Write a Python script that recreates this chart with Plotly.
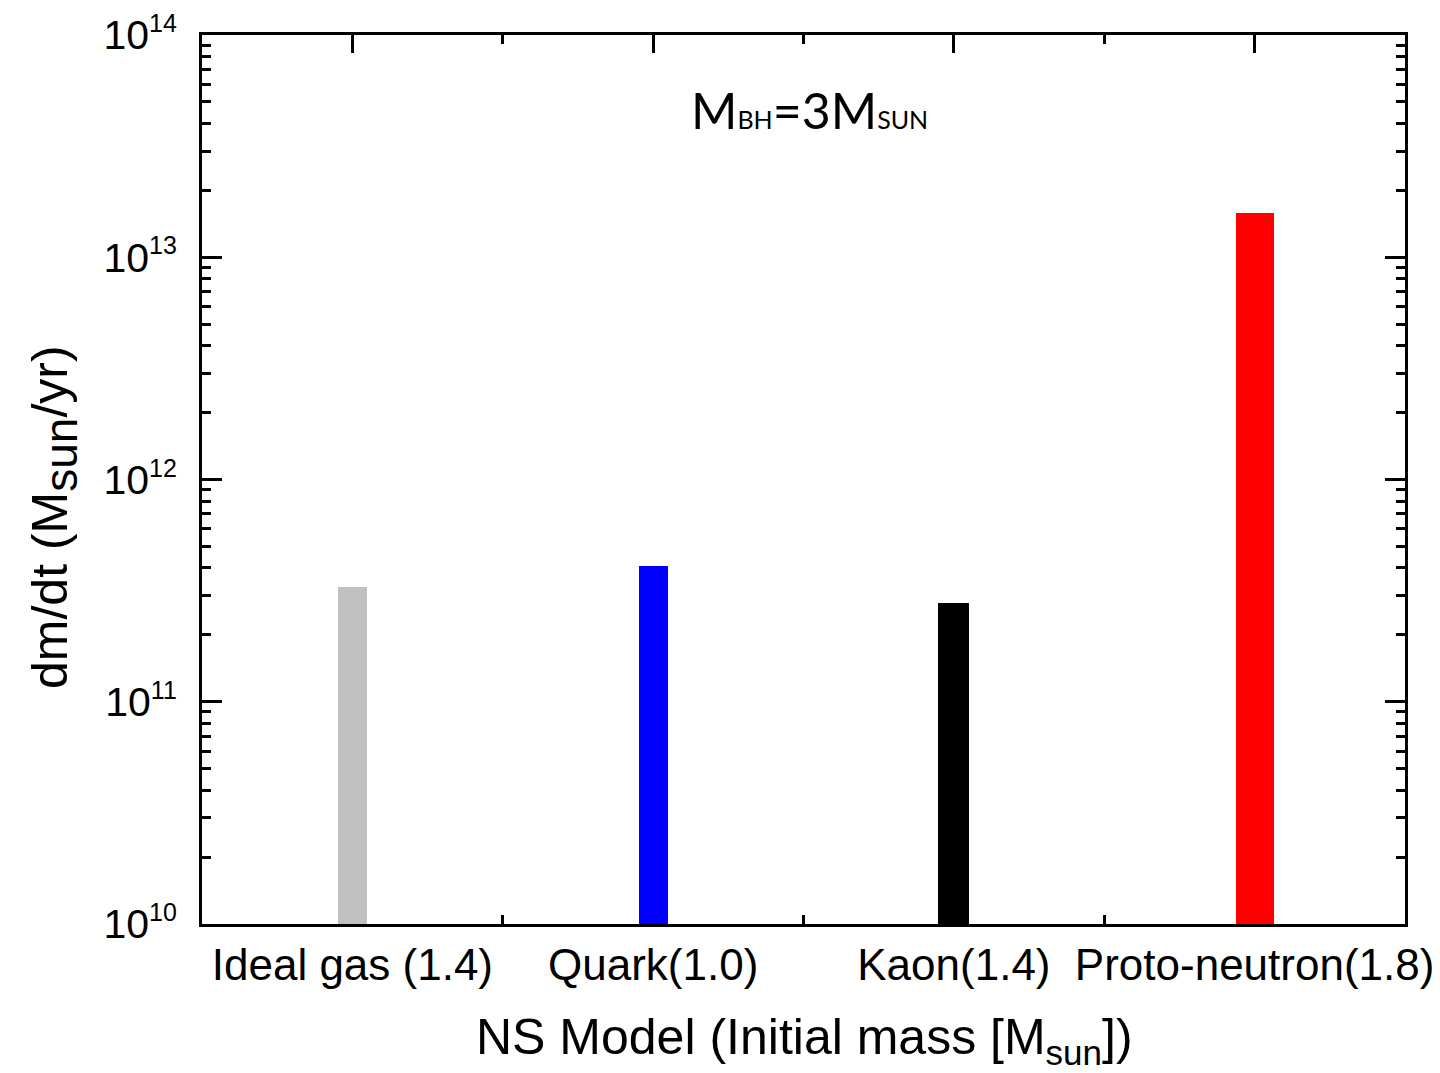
import plotly.graph_objects as go

# Accretion rate for each neutron-star model (M_BH = 3 M_sun)
models = ["Ideal gas (1.4)", "Quark(1.0)", "Kaon(1.4)", "Proto-neutron(1.8)"]
rates = [3.28e11, 4.08e11, 2.78e11, 1.58e13]
bar_colors = ["#c0c0c0", "#0000ff", "#000000", "#ff0000"]
bar_widths = [0.097, 0.097, 0.103, 0.126]

y_decades = [1e10, 1e11, 1e12, 1e13, 1e14]
y_exponents = [10, 11, 12, 13, 14]
y_ticktext = ["10<sup><span style='font-size:25px'>%d</span></sup>" % e for e in y_exponents]
y_minor = [k * d for d in y_decades[:-1] for k in range(2, 10)]

xpos = list(range(len(models)))

fig = go.Figure()
fig.add_trace(go.Bar(
    x=xpos, y=rates, width=bar_widths,
    marker=dict(color=bar_colors, line=dict(width=0)),
    showlegend=False, hoverinfo="skip",
))
# invisible trace to activate the top axis
fig.add_trace(go.Scatter(x=[xpos[0]], y=[rates[0]], xaxis="x2", mode="markers",
                         marker=dict(opacity=0), showlegend=False, hoverinfo="skip"))

font = "Liberation Sans, Arial, sans-serif"
fig.update_layout(
    width=1440, height=1073,
    margin=dict(l=202, r=35, t=35, b=149, pad=0, autoexpand=False),
    paper_bgcolor="white", plot_bgcolor="white",
    font=dict(family=font, color="black"),
    bargap=0,
    xaxis=dict(
        range=[-0.5, 3.5], tickmode="array", tickvals=xpos, ticktext=models,
        ticks="inside", ticklen=0, tickfont=dict(size=44, color="black"),
        ticklabelstandoff=0, automargin=False,
        minor=dict(tickmode="array", tickvals=[0.5, 1.5, 2.5], ticks="inside",
                   ticklen=9, tickwidth=3, tickcolor="black"),
        showline=True, linecolor="black", linewidth=3, mirror=False,
        showgrid=False, zeroline=False, fixedrange=True,
    ),
    xaxis2=dict(
        overlaying="x", side="top", matches="x", range=[-0.5, 3.5],
        tickmode="array", tickvals=xpos, showticklabels=False, automargin=False,
        ticks="inside", ticklen=18, tickwidth=3, tickcolor="black",
        minor=dict(tickmode="array", tickvals=[0.5, 1.5, 2.5], ticks="inside",
                   ticklen=9, tickwidth=3, tickcolor="black"),
        showline=True, linecolor="black", linewidth=3,
        showgrid=False, zeroline=False,
    ),
    yaxis=dict(
        type="log", range=[10, 14], tickmode="array",
        tickvals=y_decades, ticktext=y_ticktext, automargin=False,
        ticks="inside", ticklen=20, tickwidth=3, tickcolor="black",
        minor=dict(tickmode="array", tickvals=y_minor, ticks="inside",
                   ticklen=9, tickwidth=3, tickcolor="black"),
        tickfont=dict(size=41, color="black"),
        ticklabelstandoff=14,
        showline=True, linecolor="black", linewidth=3, mirror="ticks",
        showgrid=False, zeroline=False,
    ),
)

fig.add_annotation(
    xref="paper", yref="paper", x=-0.1222, y=0.4578,
    text="dm/dt (M<sub><span style='font-size:46px'>sun</span></sub>/yr)",
    textangle=-90, showarrow=False,
    xanchor="center", yanchor="middle", font=dict(size=50, family=font, color="black"),
)
fig.add_annotation(
    xref="paper", yref="paper", x=0.5005, y=-0.1305,
    text="NS Model (Initial mass [M<sub>sun</sub>])", showarrow=False,
    xanchor="center", yanchor="middle", font=dict(size=50, family=font, color="black"),
)
fig.add_annotation(
    xref="paper", yref="paper", x=0.5054, y=0.916,
    text="M<span style='font-size:25px'>BH</span>=3M<span style='font-size:25px'>SUN</span>",
    showarrow=False, xanchor="center", yanchor="middle",
    font=dict(size=50, family="Lato, Open Sans, sans-serif", color="black"),
)
# pale strip along the top-left edge
fig.add_shape(type="rect", xref="paper", yref="paper",
              x0=-202 / 1203, x1=10 / 1203, y0=(924 + 31) / 889, y1=(924 + 35) / 889,
              fillcolor="#f6ebc6", line=dict(width=0))

fig.write_html("out.html")
